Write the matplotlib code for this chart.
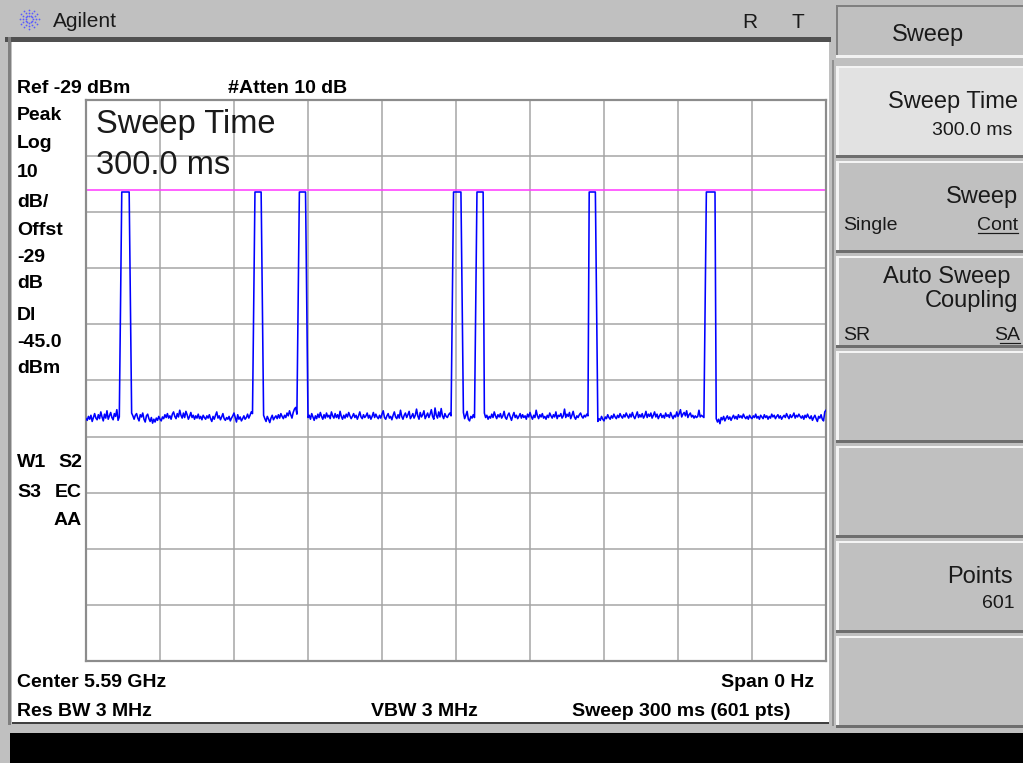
import numpy as np
import matplotlib
matplotlib.use("Agg")
import matplotlib.pyplot as plt
from matplotlib.patches import Rectangle

# ---- instrument settings ----
REF_DBM = -29.0          # top of graticule
DB_PER_DIV = 10.0
DISPLAY_LINE_DBM = -45.0
SWEEP_MS = 300.0
N_POINTS = 601

# noise floor, one value per trace point (dBm); pulse points are overwritten below
noise_dbm = [
    -85.8, -86.1, -85.4, -85.9, -85.2, -86.3, -85.6, -84.9, -85.7, -86.0, -85.1, -85.8, -84.6, -85.5, -86.2, -85.0, -85.7, -84.4, -85.9, -85.3,
    -84.7, -85.6, -86.0, -84.9, -85.4, -84.2, -86.1, -85.5, -85.5, -85.5, -85.5, -85.5, -85.5, -85.5, -85.5, -85.5, -85.5, -84.8, -85.3, -85.9,
    -85.2, -84.9, -85.7, -86.2, -85.1, -85.5, -84.8, -85.9, -86.4, -85.3, -85.0, -85.8, -86.3, -85.6, -86.6, -85.9, -86.4, -85.7, -86.1, -85.4,
    -85.9, -86.2, -85.5, -85.8, -85.1, -85.6, -84.9, -85.7, -85.3, -85.9, -85.0, -84.6, -85.4, -85.8, -84.9, -85.5, -84.3, -85.2, -85.7, -84.8,
    -85.6, -84.5, -85.1, -85.9, -85.4, -84.7, -85.6, -85.2, -85.9, -85.3, -85.7, -85.0, -85.8, -85.4, -86.0, -85.2, -85.6, -85.9, -85.3, -85.7,
    -85.1, -85.8, -86.3, -85.4, -85.9, -85.2, -84.6, -85.7, -85.3, -86.0, -85.5, -84.9, -85.8, -86.1, -85.6, -85.9, -85.4, -86.2, -85.7, -85.3,
    -84.8, -85.6, -86.4, -85.1, -85.9, -85.5, -86.2, -85.8, -85.3, -85.9, -85.6, -85.0, -85.7, -85.2, -84.6, -84.9, -85.5, -85.5, -85.5, -85.5,
    -85.5, -85.5, -85.5, -85.5, -85.2, -85.8, -86.3, -85.4, -85.9, -86.5, -85.7, -85.2, -86.0, -85.6, -85.3, -85.8, -85.1, -85.7, -84.9, -85.4,
    -85.8, -85.2, -85.6, -84.8, -85.3, -84.4, -85.1, -85.7, -84.7, -84.1, -83.8, -85.0, -85.5, -85.5, -85.5, -85.5, -85.5, -85.5, -85.5, -85.5,
    -85.6, -85.2, -85.9, -84.9, -85.5, -86.1, -85.3, -85.8, -85.0, -85.6, -84.7, -85.4, -85.9, -85.1, -85.7, -84.8, -85.5, -85.2, -85.8, -84.6,
    -85.3, -85.7, -84.9, -85.6, -85.1, -85.8, -84.5, -85.4, -85.9, -85.2, -85.7, -85.0, -85.5, -84.7, -85.3, -85.8, -85.4, -84.9, -85.6, -85.2,
    -85.9, -85.3, -84.6, -85.5, -85.8, -85.1, -85.6, -85.3, -84.8, -85.7, -85.2, -85.9, -85.4, -84.7, -85.6, -85.0, -85.5, -85.8, -85.2, -85.7,
    -85.0, -84.4, -85.6, -85.9, -85.3, -84.9, -85.7, -85.4, -86.0, -85.2, -84.6, -85.5, -85.8, -85.1, -85.7, -84.3, -85.4, -85.9, -85.2, -84.8,
    -85.6, -85.1, -84.5, -85.8, -85.4, -84.9, -85.7, -85.2, -84.1, -85.3, -85.9, -84.7, -85.5, -85.1, -84.4, -85.8, -85.3, -84.8, -85.6, -85.0,
    -84.2, -85.4, -85.9, -83.9, -85.2, -85.7, -84.6, -85.5, -84.0, -85.3, -85.8, -84.9, -85.4, -85.6, -85.1, -84.8, -85.3, -85.5, -85.5, -85.5,
    -85.5, -85.5, -85.5, -85.5, -85.5, -85.5, -84.7, -85.8, -85.2, -84.5, -85.9, -86.2, -85.4, -85.7, -85.1, -85.6, -85.5, -85.5, -85.5, -85.5,
    -85.5, -85.5, -85.5, -84.8, -85.6, -85.2, -85.9, -85.4, -85.7, -85.0, -85.6, -84.6, -85.3, -85.8, -85.1, -85.5, -84.9, -85.7, -85.3, -84.5,
    -85.6, -85.9, -85.2, -84.8, -85.5, -86.1, -85.3, -84.7, -85.6, -85.2, -85.8, -85.4, -84.9, -85.7, -85.1, -85.6, -85.3, -85.9, -85.0, -85.5,
    -84.7, -85.4, -85.9, -85.2, -85.6, -84.3, -85.3, -85.8, -85.1, -85.5, -84.9, -85.7, -85.4, -85.9, -85.2, -85.6, -84.8, -85.3, -85.7, -85.1,
    -85.5, -84.6, -85.8, -85.2, -85.4, -84.9, -85.7, -85.3, -84.1, -85.6, -85.0, -85.4, -84.7, -85.8, -85.2, -84.5, -85.5, -85.9, -85.3, -85.6,
    -85.1, -84.8, -85.4, -85.7, -85.2, -85.5, -85.0, -85.3, -85.5, -85.5, -85.5, -85.5, -85.5, -85.5, -85.5, -86.3, -85.8, -86.1, -85.4, -85.9,
    -86.2, -85.5, -85.8, -85.1, -85.6, -85.9, -85.3, -85.7, -85.0, -85.5, -85.8, -85.2, -85.6, -84.9, -85.4, -85.7, -85.1, -85.5, -84.8, -85.3,
    -85.7, -85.0, -85.5, -84.7, -85.4, -85.8, -85.2, -84.6, -85.6, -85.1, -85.5, -84.9, -85.7, -85.3, -84.5, -85.6, -85.0, -85.4, -84.8, -85.7,
    -85.2, -84.6, -85.5, -85.0, -85.8, -85.3, -84.9, -85.6, -85.2, -85.7, -84.8, -85.4, -85.1, -85.6, -84.7, -85.3, -85.8, -85.2, -85.5, -84.6,
    -85.4, -84.9, -84.2, -85.5, -85.0, -84.7, -85.3, -84.4, -85.6, -85.1, -84.8, -85.5, -85.2, -85.7, -85.3, -85.6, -85.4, -84.3, -85.5, -85.2,
    -85.4, -85.6, -85.5, -85.5, -85.5, -85.5, -85.5, -85.5, -85.5, -85.5, -85.5, -85.8, -86.4, -85.9, -86.7, -85.6, -86.0, -85.4, -86.2, -85.7,
    -85.3, -85.9, -85.5, -86.1, -85.6, -85.2, -85.8, -85.4, -85.9, -85.1, -85.6, -85.3, -85.7, -85.0, -85.5, -85.8, -85.4, -85.9, -85.2, -85.6,
    -85.8, -85.3, -85.6, -85.0, -85.7, -85.4, -85.9, -85.2, -85.5, -85.8, -85.1, -85.6, -85.3, -85.9, -85.4, -85.7, -85.0, -85.5, -85.2, -85.8,
    -85.4, -85.1, -85.7, -85.3, -85.9, -85.5, -85.2, -85.6, -84.9, -85.4, -85.8, -85.1, -85.6, -85.3, -84.8, -85.7, -85.2, -85.5, -85.0, -85.4,
    -85.7, -85.3, -85.9, -85.2, -85.6, -85.0, -85.5, -85.8, -85.3, -86.1, -85.6, -85.2, -85.8, -86.3, -85.4, -85.7, -85.1, -85.9, -86.2, -84.6,
    -84.3,
]

# burst pulses: first trace point of each burst and the levels it takes
pulse_start = [28, 136, 172, 297, 316, 408, 502]
pulse_levels = [
    [-65.4, -45.4, -45.4, -45.4, -45.4, -45.4, -45.4, -45.4, -65.4],
    [-65.1, -45.4, -45.4, -45.4, -45.4, -45.4, -45.4, -65.4],
    [-65.4, -45.4, -45.4, -45.4, -45.4, -45.4, -45.4, -65.4],
    [-64.9, -45.4, -45.4, -45.4, -45.4, -45.4, -45.4, -45.4, -65.4],
    [-65.4, -45.4, -45.4, -45.4, -45.4, -45.4, -45.4],
    [-45.4, -45.4, -45.4, -45.4, -45.4, -45.4, -65.4],
    [-65.0, -45.4, -45.4, -45.4, -45.4, -45.4, -45.4, -45.4, -45.4],
]

left_labels = ["Peak", "Log", "10", "dB/", "Offst", "-29", "dB", "Dl", "-45.0", "dBm"]
left_label_y = [120, 148, 177, 207, 235, 262, 288, 320, 347, 373]

trace = np.array(noise_dbm, dtype=float)
for start, lev in zip(pulse_start, pulse_levels):
    trace[start:start + len(lev)] = lev
t_ms = np.linspace(0, SWEEP_MS, len(trace))

# ---- canvas in screen pixels ----
W, H = 1023, 763
GRAY = "#c0c0c0"
fig = plt.figure(figsize=(W / 100, H / 100), dpi=100)
fig.patch.set_facecolor(GRAY)
bg = fig.add_axes([0, 0, 1, 1])
bg.set_xlim(0, W); bg.set_ylim(H, 0); bg.axis("off")

PX = 0.72  # points per pixel


def box(x0, y0, x1, y1, fc):
    bg.add_patch(Rectangle((x0, y0), x1 - x0, y1 - y0, fc=fc, ec="none", lw=0))


# screen frame
box(12, 42, 829, 723, "white")
box(5, 37, 831, 42, "#505050")
box(8, 37, 11, 725, "#808080")
box(12, 722, 829, 724, "#404040")
box(10, 733, W, H, "black")

# softkey column
box(836, 5, W, 57, GRAY)
box(836, 5, W, 7, "#808080"); box(836, 5, 838, 57, "#808080"); box(836, 55, W, 58, "#f2f2f2")
box(832, 60, 834, 726, "#909090")
btn_tops = [66, 161, 256, 351, 446, 541, 636]
for k, top in enumerate(btn_tops):
    box(836, top, W, top + 89, "#e2e2e2" if k == 0 else GRAY)
    box(836, top, W, top + 2, "#f4f4f4")
    box(836, top, 839, top + 89, "#f4f4f4")
    box(836, top + 89, W, top + 92, "#6e6e6e")

# Agilent spark logo
for a in np.deg2rad(np.arange(0, 360, 30)):
    r = np.array([3.5, 6.5, 9.5])
    bg.scatter(29 + r * np.cos(a), 19 + r * np.sin(a), s=1.6, color="#5a5aff", lw=0)

# ---- graticule ----
gx0, gx1, gy0, gy1 = 86, 826, 100, 661
ax = fig.add_axes([gx0 / W, 1 - gy1 / H, (gx1 - gx0) / W, (gy1 - gy0) / H])
ax.set_facecolor("white")
ax.set_xlim(0, SWEEP_MS)
ax.set_ylim(REF_DBM - 10 * DB_PER_DIV, REF_DBM)
ax.set_xticks(np.linspace(0, SWEEP_MS, 11))
ax.set_yticks(np.linspace(REF_DBM - 10 * DB_PER_DIV, REF_DBM, 11))
ax.tick_params(length=0, labelbottom=False, labelleft=False)
ax.grid(True, color="#a4a4a4", lw=1.5 * PX)
for s in ax.spines.values():
    s.set_color("#8c8c8c"); s.set_linewidth(2.2 * PX)
ax.axhline(DISPLAY_LINE_DBM, color="#ff40ff", lw=1.6 * PX, zorder=2)
ax.plot(t_ms, trace, color="#0000ff", lw=1.6 * PX, zorder=3)

# ---- text overlay ----
ov = fig.add_axes([0, 0, 1, 1])
ov.set_xlim(0, W); ov.set_ylim(H, 0); ov.axis("off")
FAM = ["Liberation Sans", "DejaVu Sans"]
B = dict(family=FAM, weight="bold", fontsize=14, va="baseline", color="black")
R = dict(family=FAM, va="baseline", color="#1a1a1a")

ov.text(53, 27, "Agilent", fontsize=15, **R)
ov.text(750, 28, "R", fontsize=15, ha="center", **R)
ov.text(798, 28, "T", fontsize=15, ha="center", **R)

ov.text(17, 93, "Ref -29 dBm", **B)
ov.text(228, 93, "#Atten 10 dB", **B)
for lab, y in zip(left_labels, left_label_y):
    ov.text(17, y, lab, **B)
ov.text(17, 467, "W1", **B); ov.text(82, 467, "S2", ha="right", **B)
ov.text(17, 497, "S3", **B); ov.text(82, 497, "EC", ha="right", **B)
ov.text(82, 525, "AA", ha="right", **B)
ov.text(17, 687, "Center 5.59 GHz", **B)
ov.text(814, 687, "Span 0 Hz", ha="right", **B)
ov.text(17, 716, "Res BW 3 MHz", **B)
ov.text(478, 716, "VBW 3 MHz", ha="right", **B)
ov.text(791, 716, "Sweep 300 ms (601 pts)", ha="right", **B)

ov.text(96, 133, "Sweep Time", fontsize=23.5, **R)
ov.text(96, 174, "300.0 ms", fontsize=23.5, **R)

# softkey labels
ov.text(928, 41, "Sweep", fontsize=17, ha="center", **R)
ov.text(1018, 108, "Sweep Time", fontsize=17, ha="right", **R)
ov.text(1012, 135, "300.0 ms", fontsize=14, ha="right", **R)
ov.text(1018, 203, "Sweep", fontsize=17, ha="right", **R)
ov.text(843, 230, "Single", fontsize=14, **R)
ov.text(1018, 230, "Cont", fontsize=14, ha="right", **R)
ov.plot([978, 1018], [233, 233], color="#1a1a1a", lw=1.2 * PX)
ov.text(1020, 340, "SA", fontsize=14, ha="right", **R)
ov.plot([1000, 1020], [343, 343], color="#1a1a1a", lw=1.2 * PX)
ov.text(1010, 283, "Auto Sweep", fontsize=17, ha="right", **R)
ov.text(1018, 307, "Coupling", fontsize=17, ha="right", **R)
ov.text(843, 340, "SR", fontsize=14, **R)
ov.text(1013, 583, "Points", fontsize=17, ha="right", **R)
ov.text(1015, 608, "601", fontsize=14, ha="right", **R)

fig.savefig("out.png", dpi=100, facecolor=GRAY)
